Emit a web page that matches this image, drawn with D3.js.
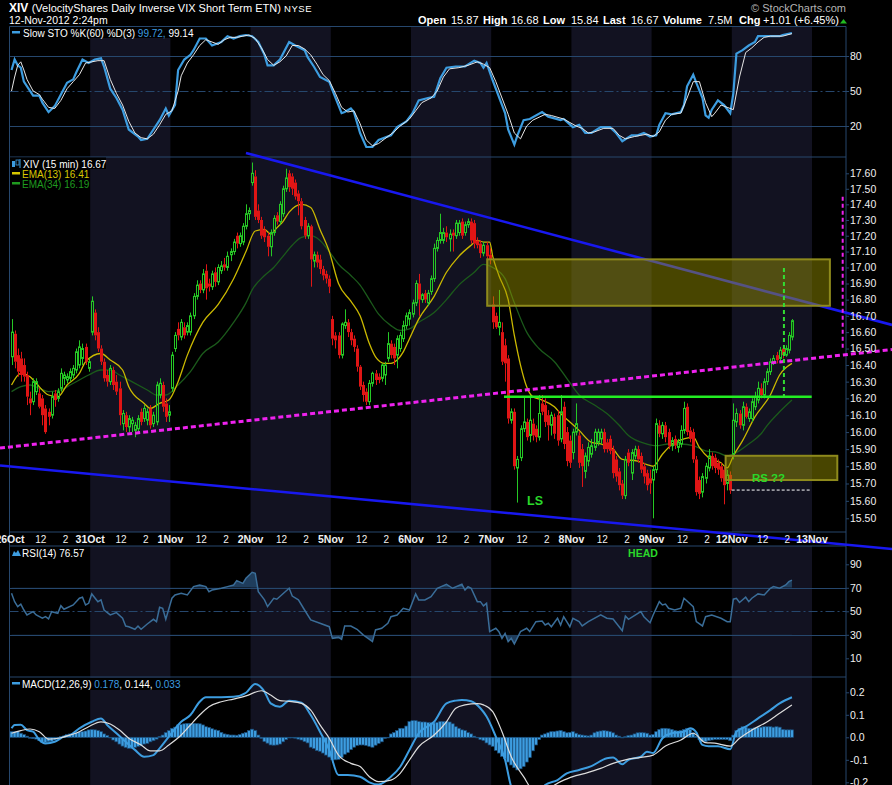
<!DOCTYPE html>
<html><head><meta charset="utf-8">
<script src="https://cdn.jsdelivr.net/npm/d3@7"></script>
<style>
html,body{margin:0;padding:0;background:#000;}
svg{display:block;font-family:"Liberation Sans",Arial,sans-serif;}
</style></head><body>
<svg id="c" width="892" height="785"></svg>
<script>
// ---------------- DATA ----------------
const dayLabels = ["26Oct","31Oct","1Nov","2Nov","5Nov","6Nov","7Nov","8Nov","9Nov","12Nov","13Nov"];
const hourLabels = [[10,"12"],[18,"2"]];
const priceTicks = [17.6,17.5,17.4,17.3,17.2,17.1,17.0,16.9,16.8,16.7,16.6,16.5,16.4,16.3,16.2,16.1,16.0,15.9,15.8,15.7,15.6,15.5];
const stoTicks = [80,50,20];
const rsiTicks = [90,70,50,30,10];
const macdTicks = [0.2,0.1,0,-0.1,-0.2];

// 15-min candles [open, high, low, close]
const oct26 = [[16.45,16.68,16.40,16.60],[16.59,16.61,16.38,16.42],[16.46,16.50,16.33,16.36],[16.44,16.48,16.30,16.34],[16.40,16.44,16.30,16.33],[16.34,16.36,16.16,16.21],[16.20,16.24,16.10,16.17],[16.18,16.32,16.16,16.30],[16.24,16.32,16.22,16.30],[16.23,16.26,16.14,16.15],[16.20,16.22,16.04,16.10],[16.14,16.16,15.99,16.00],[16.12,16.14,16.04,16.09],[16.10,16.24,16.08,16.21],[16.23,16.25,16.15,16.19],[16.20,16.26,16.18,16.24],[16.26,16.38,16.24,16.35],[16.32,16.36,16.28,16.34],[16.31,16.35,16.29,16.33],[16.32,16.38,16.30,16.36],[16.34,16.40,16.32,16.38],[16.37,16.50,16.35,16.48],[16.40,16.55,16.38,16.51],[16.44,16.53,16.40,16.50],[16.51,16.53,16.40,16.42],[16.38,16.44,16.36,16.42]];
const oct31 = [[16.60,16.82,16.58,16.79],[16.72,16.74,16.55,16.58],[16.60,16.63,16.48,16.50],[16.50,16.52,16.40,16.42],[16.42,16.44,16.30,16.32],[16.34,16.37,16.27,16.30],[16.30,16.40,16.28,16.38],[16.37,16.39,16.25,16.28],[16.30,16.34,16.22,16.24],[16.26,16.30,16.04,16.10],[16.05,16.13,16.01,16.11],[16.10,16.12,16.00,16.03],[16.03,16.10,16.00,16.08],[16.05,16.09,16.00,16.07],[16.01,16.06,15.97,16.04],[16.02,16.10,15.99,16.08],[16.12,16.14,16.04,16.06],[16.08,16.16,16.06,16.14],[16.07,16.14,16.04,16.12],[16.14,16.16,16.02,16.04],[16.05,16.12,16.03,16.10],[16.06,16.30,16.04,16.28],[16.22,16.32,16.20,16.29],[16.28,16.30,16.12,16.15],[16.17,16.20,16.06,16.09],[16.10,16.16,16.06,16.12]];
const nov1 = [[16.26,16.48,16.24,16.46],[16.50,16.60,16.48,16.58],[16.62,16.66,16.55,16.58],[16.57,16.68,16.55,16.66],[16.63,16.66,16.56,16.58],[16.60,16.66,16.58,16.64],[16.60,16.72,16.58,16.70],[16.70,16.84,16.68,16.82],[16.82,16.92,16.80,16.89],[16.90,16.92,16.84,16.86],[16.86,16.99,16.84,16.96],[16.98,17.02,16.80,16.87],[16.90,16.93,16.85,16.88],[16.88,16.98,16.86,16.96],[16.97,17.00,16.88,16.91],[16.91,17.02,16.89,17.00],[16.98,17.04,16.96,17.01],[17.02,17.06,16.98,17.00],[17.00,17.10,16.98,17.07],[17.08,17.12,17.04,17.10],[17.10,17.18,17.08,17.16],[17.20,17.22,17.12,17.15],[17.15,17.22,17.13,17.20],[17.16,17.28,17.14,17.26],[17.26,17.40,17.24,17.34],[17.34,17.38,17.30,17.36]];
const nov2 = [[17.54,17.67,17.52,17.60],[17.58,17.62,17.30,17.32],[17.36,17.40,17.28,17.30],[17.30,17.32,17.18,17.20],[17.24,17.26,17.16,17.19],[17.20,17.22,17.07,17.13],[17.13,17.24,17.07,17.22],[17.22,17.33,17.20,17.31],[17.33,17.35,17.27,17.29],[17.29,17.42,17.27,17.40],[17.34,17.52,17.32,17.50],[17.50,17.63,17.48,17.57],[17.60,17.62,17.48,17.51],[17.58,17.60,17.46,17.50],[17.54,17.56,17.43,17.45],[17.47,17.49,17.33,17.42],[17.42,17.44,17.24,17.26],[17.30,17.32,17.18,17.20],[17.20,17.28,17.18,17.26],[17.26,17.27,16.88,17.05],[17.04,17.10,17.00,17.08],[17.08,17.10,17.00,17.03],[17.05,17.08,16.96,16.99],[16.99,17.01,16.92,16.95],[16.96,16.98,16.90,16.93],[16.93,16.95,16.84,16.88]];
const nov5 = [[16.68,16.70,16.52,16.56],[16.58,16.60,16.50,16.55],[16.58,16.60,16.44,16.46],[16.46,16.66,16.44,16.65],[16.64,16.74,16.62,16.66],[16.66,16.68,16.57,16.60],[16.60,16.62,16.52,16.55],[16.56,16.58,16.48,16.51],[16.50,16.52,16.36,16.39],[16.39,16.40,16.25,16.27],[16.28,16.30,16.18,16.22],[16.24,16.26,16.16,16.18],[16.18,16.31,16.16,16.29],[16.29,16.36,16.27,16.35],[16.35,16.37,16.28,16.31],[16.33,16.35,16.29,16.31],[16.32,16.41,16.30,16.40],[16.34,16.42,16.28,16.40],[16.44,16.60,16.42,16.53],[16.53,16.55,16.44,16.46],[16.51,16.53,16.40,16.44],[16.46,16.58,16.38,16.56],[16.50,16.60,16.48,16.58],[16.56,16.67,16.54,16.64],[16.64,16.72,16.62,16.70],[16.68,16.74,16.64,16.72]];
const nov6 = [[16.71,16.80,16.69,16.78],[16.78,16.92,16.76,16.90],[16.90,16.96,16.70,16.80],[16.80,16.84,16.78,16.83],[16.84,16.86,16.78,16.80],[16.78,16.86,16.76,16.84],[16.85,16.95,16.83,16.93],[16.93,17.15,16.91,17.12],[17.12,17.19,17.10,17.17],[17.17,17.34,17.15,17.22],[17.17,17.25,17.15,17.22],[17.22,17.26,17.16,17.19],[17.18,17.24,17.10,17.21],[17.22,17.24,17.10,17.20],[17.20,17.30,17.18,17.28],[17.22,17.30,17.20,17.28],[17.29,17.31,17.18,17.20],[17.22,17.29,17.20,17.27],[17.27,17.31,17.25,17.29],[17.29,17.31,17.15,17.17],[17.28,17.30,17.12,17.15],[17.17,17.19,17.12,17.14],[17.15,17.17,17.06,17.09],[17.09,17.16,17.07,17.14],[17.14,17.16,17.04,17.07],[17.08,17.12,17.02,17.05]];
const nov7 = [[16.77,16.82,16.62,16.66],[16.70,16.72,16.62,16.63],[16.63,16.86,16.58,16.66],[16.60,16.66,16.40,16.42],[16.52,16.56,16.30,16.41],[16.44,16.46,16.05,16.08],[16.07,16.14,16.05,16.12],[16.12,16.14,15.78,15.80],[15.79,15.86,15.59,15.84],[15.85,16.04,15.83,16.02],[16.02,16.21,16.00,16.06],[16.06,16.08,15.95,15.97],[15.98,16.22,15.94,16.07],[16.05,16.08,15.95,15.98],[16.02,16.04,15.94,15.97],[15.97,16.22,15.95,16.11],[16.17,16.22,16.10,16.12],[16.16,16.20,16.03,16.06],[16.10,16.13,15.95,16.04],[16.04,16.12,15.98,16.10],[16.09,16.11,15.96,15.99],[16.10,16.13,15.92,15.95],[15.96,16.22,15.94,16.12],[16.15,16.18,15.90,15.93],[16.00,16.03,15.80,15.83],[15.95,15.98,15.79,15.82]];
const nov8 = [[15.88,16.02,15.84,16.00],[16.00,16.17,15.98,16.05],[15.98,16.00,15.79,15.82],[15.90,15.93,15.68,15.80],[15.77,15.88,15.73,15.86],[15.83,15.94,15.80,15.91],[15.87,15.96,15.85,15.92],[15.91,16.02,15.89,16.00],[15.94,16.02,15.92,16.00],[15.96,16.02,15.93,16.00],[16.00,16.02,15.88,15.90],[15.94,15.96,15.88,15.90],[15.96,15.98,15.87,15.89],[15.90,15.92,15.73,15.76],[15.84,15.86,15.71,15.74],[15.77,15.79,15.66,15.69],[15.70,15.72,15.61,15.63],[15.63,15.86,15.61,15.84],[15.88,15.90,15.80,15.82],[15.76,15.90,15.72,15.88],[15.86,15.92,15.84,15.90],[15.90,15.92,15.82,15.84],[15.86,15.88,15.76,15.78],[15.80,15.82,15.70,15.74],[15.76,15.78,15.66,15.69],[15.73,15.78,15.64,15.70]];
const nov9 = [[15.72,15.80,15.50,15.78],[15.78,16.08,15.76,16.05],[16.04,16.07,15.97,15.99],[15.99,16.06,15.96,16.04],[16.04,16.06,15.94,15.97],[16.00,16.02,15.90,15.92],[15.92,15.97,15.89,15.95],[15.96,15.98,15.90,15.92],[15.91,15.96,15.88,15.94],[15.93,16.04,15.91,16.01],[16.01,16.18,15.99,16.14],[16.15,16.17,15.98,16.00],[16.01,16.03,15.94,15.96],[16.00,16.02,15.82,15.84],[15.84,15.86,15.63,15.65],[15.72,15.74,15.61,15.64],[15.65,15.76,15.62,15.74],[15.73,15.82,15.70,15.80],[15.79,15.90,15.77,15.86],[15.86,15.88,15.78,15.80],[15.85,15.87,15.76,15.79],[15.82,15.84,15.75,15.78],[15.80,15.82,15.71,15.73],[15.78,15.80,15.58,15.69],[15.70,15.78,15.66,15.75],[15.75,15.77,15.64,15.66]];
const nov12 = [[15.87,16.17,15.84,16.07],[16.06,16.14,16.03,16.11],[16.11,16.13,16.02,16.04],[16.04,16.18,16.01,16.15],[16.15,16.17,16.08,16.09],[16.08,16.14,16.06,16.12],[16.08,16.20,16.06,16.18],[16.15,16.24,16.13,16.21],[16.19,16.30,16.17,16.26],[16.26,16.29,16.20,16.22],[16.22,16.32,16.20,16.30],[16.30,16.38,16.28,16.36],[16.36,16.44,16.34,16.42],[16.42,16.46,16.40,16.44],[16.46,16.48,16.41,16.43],[16.44,16.51,16.42,16.49],[16.50,16.52,16.44,16.46],[16.46,16.52,16.45,16.50],[16.49,16.60,16.47,16.58],[16.57,16.68,16.55,16.67]];

// overlays: [bar index, value]
const ema13 = [[0,16.28],[3,16.35],[6,16.33],[8,16.29],[12,16.22],[15,16.21],[18,16.28],[22,16.35],[24,16.42],[29,16.47],[32,16.43],[36,16.37],[38,16.27],[43,16.17],[45,16.14],[48,16.17],[51,16.19],[54,16.30],[57,16.46],[62,16.66],[67,16.77],[72,16.93],[76,17.10],[79,17.23],[82,17.24],[84,17.21],[86,17.25],[88,17.29],[90,17.35],[94,17.40],[97,17.38],[100,17.24],[103,17.10],[106,16.90],[110,16.79],[113,16.70],[116,16.53],[118,16.45],[121,16.41],[123,16.41],[125,16.43],[127,16.48],[129,16.56],[132,16.68],[137,16.82],[141,16.97],[145,17.07],[149,17.14],[151,17.17],[153,17.16],[155,17.16],[156,17.07],[158,16.95],[161,16.80],[163,16.58],[165,16.40],[167,16.27],[169,16.21],[172,16.19],[176,16.15],[178,16.11],[181,16.06],[184,16.01],[188,15.94],[191,15.93],[195,15.90],[198,15.84],[203,15.83],[206,15.81],[208,15.80],[211,15.87],[215,15.94],[218,15.96],[221,15.97],[223,15.91],[226,15.85],[230,15.82],[232,15.79],[234,15.86],[237,15.95],[241,16.09],[246,16.22],[249,16.34],[253,16.41]];
const ema34 = [[0,16.24],[3,16.27],[6,16.28],[9,16.26],[12,16.24],[16,16.25],[19,16.28],[22,16.31],[25,16.34],[29,16.37],[32,16.37],[35,16.34],[39,16.30],[44,16.25],[47,16.22],[50,16.22],[54,16.28],[58,16.36],[62,16.47],[67,16.54],[72,16.66],[76,16.78],[78,16.86],[82,16.95],[85,17.00],[88,17.07],[91,17.14],[94,17.19],[97,17.20],[100,17.17],[103,17.10],[106,17.02],[110,16.95],[113,16.89],[116,16.80],[119,16.71],[123,16.64],[126,16.61],[129,16.62],[132,16.66],[137,16.72],[141,16.80],[145,16.89],[150,16.97],[153,17.02],[156,17.00],[160,16.93],[163,16.78],[167,16.60],[171,16.50],[176,16.42],[180,16.32],[184,16.22],[189,16.16],[193,16.11],[197,16.04],[200,15.98],[206,15.93],[209,15.92],[213,15.93],[217,15.93],[221,15.92],[225,15.89],[229,15.88],[232,15.86],[235,15.88],[239,15.93],[243,15.99],[245,16.04],[249,16.12],[253,16.19]];
const stoK = [[0,68],[1,77],[2,72],[3,70],[4,58],[7,46],[9,46],[10,40],[12,32],[14,37],[16,47],[18,57],[20,60],[21,66],[23,77],[25,74],[27,77],[29,78],[30,71],[32,52],[34,44],[36,34],[38,17],[41,11],[42,8],[44,9],[46,17],[48,25],[50,35],[51,29],[53,38],[54,68],[56,77],[58,81],[59,85],[61,95],[63,95],[65,89],[68,92],[70,97],[72,95],[74,97],[76,98],[78,97],[80,92],[82,81],[83,72],[85,72],[87,77],[88,82],[90,92],[92,89],[95,85],[96,79],[98,71],[100,62],[103,58],[104,51],[107,31],[108,32],[110,35],[111,32],[113,14],[115,2],[117,2],[119,8],[123,12],[125,19],[128,24],[130,31],[132,42],[135,44],[137,45],[139,61],[141,70],[144,71],[147,71],[150,76],[152,74],[153,70],[154,74],[156,59],[158,45],[160,31],[161,17],[163,4],[164,12],[166,25],[168,26],[172,32],[174,28],[178,25],[179,26],[182,19],[184,21],[186,14],[188,14],[191,19],[194,19],[196,14],[198,7],[201,12],[203,12],[205,14],[207,11],[209,12],[210,21],[212,31],[214,30],[217,32],[218,38],[219,54],[221,64],[222,57],[224,44],[225,29],[226,27],[227,34],[229,42],[231,38],[233,31],[234,48],[235,82],[237,85],[239,89],[241,92],[242,97],[245,97],[249,97],[250,98],[253,99.72]];
const stoD = [[0,50],[1,62],[2,72],[3,75],[4,68],[5,60],[7,50],[9,47],[10,43],[12,36],[14,35],[16,42],[18,52],[20,58],[22,64],[24,74],[26,75],[28,76],[30,76],[32,60],[34,48],[36,38],[38,24],[40,14],[42,10],[44,9],[46,13],[48,21],[50,30],[52,33],[54,50],[55,63],[57,74],[59,81],[61,89],[63,94],[65,92],[67,90],[69,94],[71,96],[73,96],[75,97],[77,98],[79,95],[81,87],[83,77],[85,72],[87,75],[89,80],[91,89],[93,89],[95,86],[97,81],[99,73],[101,64],[103,59],[105,48],[107,36],[109,32],[111,33],[113,22],[115,8],[117,3],[119,5],[121,9],[124,15],[126,20],[129,26],[131,33],[133,40],[136,44],[138,50],[140,62],[142,69],[145,70],[148,72],[151,75],[153,73],[155,70],[157,58],[159,44],[161,30],[163,14],[165,9],[167,20],[169,25],[173,30],[175,29],[179,26],[181,23],[183,20],[185,18],[187,14],[189,15],[192,18],[195,18],[197,12],[199,9],[202,11],[204,12],[206,13],[208,11],[210,15],[212,25],[214,30],[217,31],[219,44],[221,58],[223,58],[225,40],[227,28],[228,31],[230,38],[232,36],[234,34],[236,62],[238,83],[240,87],[242,92],[244,96],[246,97],[250,97],[253,99.14]];
const rsi14 = [[0,65.4],[1,58.2],[2,54],[3,56],[4,51.1],[5,46.9],[7,49.7],[8,46.9],[10,44.1],[11,45.5],[12,43.5],[13,49.7],[15,48.3],[16,54.8],[17,51.7],[20,55.4],[22,61.1],[23,62],[24,55.4],[25,56.8],[26,64.8],[28,58.2],[29,59.7],[30,51.1],[32,46.9],[34,48.9],[36,44.1],[37,37.5],[38,36.9],[40,34.7],[41,37.5],[42,34.7],[44,39.2],[46,43.2],[47,41.2],[48,53.4],[49,52.6],[50,43.2],[52,61.1],[53,63.9],[55,65.4],[57,63.9],[59,71],[61,72.4],[63,71],[64,66.7],[65,68.1],[68,69.6],[70,71],[72,72.4],[73,76.1],[75,73.8],[76,78.1],[78,83.2],[79,82.3],[80,66.7],[82,59.7],[83,54],[85,61.1],[86,60.3],[90,69.6],[91,63],[93,59.7],[95,51.1],[97,42.6],[100,39.8],[103,36.9],[104,27],[106,27.8],[107,26.2],[108,37.5],[110,37.5],[112,34.7],[114,29.9],[117,24.2],[118,34.1],[120,35.5],[122,39.8],[123,45.4],[125,46.8],[127,52.6],[129,51.1],[131,64.8],[132,59.7],[134,59.7],[136,62.5],[138,69.6],[141,73],[143,69.6],[146,73],[147,68.1],[148,71],[149,69.6],[151,58.2],[152,58.2],[153,54.6],[154,56.8],[155,32.7],[157,35.6],[158,32.7],[159,27],[160,31.2],[161,24.2],[162,27],[163,22.2],[165,32.7],[167,35.6],[168,32.7],[170,41.2],[172,41.8],[173,38.4],[174,39.8],[175,36.9],[177,44.1],[178,38.4],[179,45.4],[181,36.9],[182,44.1],[184,41.2],[185,37.5],[187,41.2],[191,46.9],[193,44.1],[195,43.5],[198,33.5],[199,46],[200,43.2],[204,49.7],[205,45.4],[207,40.3],[208,46.9],[210,58.2],[211,55.4],[212,56.2],[213,52.6],[215,51.1],[217,52.6],[218,61.1],[221,54],[222,41.2],[224,37.5],[225,45.4],[227,46.9],[230,44.1],[232,41.2],[233,41.2],[234,60.3],[235,61.1],[236,57.5],[238,62],[239,58.2],[240,61.1],[242,64.8],[244,63.9],[246,69.6],[247,71],[249,69.6],[251,72.4],[252,75.2],[253,76.57]];
const macdLine = [[0,0.04],[1,0.055],[3,0.056],[5,0.032],[7,0.025],[9,-0.012],[11,-0.027],[14,-0.02],[17,0.003],[19,0.01],[22,0.04],[26,0.069],[29,0.084],[31,0.055],[34,0.018],[37,-0.02],[40,-0.056],[43,-0.086],[46,-0.079],[48,-0.049],[51,0.003],[55,0.069],[58,0.099],[61,0.158],[63,0.178],[68,0.178],[72,0.18],[76,0.198],[79,0.237],[82,0.203],[84,0.151],[87,0.136],[90,0.163],[94,0.154],[97,0.099],[100,0.025],[103,-0.056],[106,-0.168],[109,-0.168],[113,-0.175],[116,-0.2],[119,-0.21],[123,-0.175],[126,-0.131],[129,-0.056],[132,0.018],[137,0.069],[141,0.151],[144,0.163],[146,0.166],[149,0.16],[152,0.129],[154,0.092],[157,0.003],[160,-0.1],[162,-0.22],[165,-0.28],[168,-0.29],[171,-0.25],[173,-0.212],[177,-0.19],[180,-0.16],[184,-0.145],[188,-0.128],[193,-0.093],[195,-0.09],[198,-0.12],[200,-0.1],[204,-0.086],[206,-0.064],[208,-0.07],[211,-0.004],[214,0.018],[218,0.025],[220,0.04],[222,0.022],[224,-0.034],[226,-0.04],[229,-0.04],[233,-0.053],[235,0.025],[238,0.047],[242,0.084],[246,0.121],[249,0.151],[253,0.178]];
const macdSignal = [[0,0.018],[3,0.03],[6,0.037],[9,0.025],[12,-0.008],[16,-0.002],[19,0.01],[22,0.025],[25,0.047],[29,0.069],[32,0.059],[35,0.032],[38,-0.004],[42,-0.034],[45,-0.06],[48,-0.06],[51,-0.034],[55,0.01],[58,0.055],[61,0.099],[64,0.136],[68,0.158],[72,0.17],[76,0.184],[81,0.207],[84,0.188],[87,0.163],[90,0.16],[94,0.151],[97,0.121],[100,0.055],[103,-0.004],[106,-0.079],[110,-0.116],[113,-0.13],[116,-0.175],[119,-0.197],[123,-0.19],[126,-0.16],[129,-0.101],[132,-0.042],[137,0.01],[141,0.069],[144,0.129],[147,0.144],[151,0.15],[153,0.144],[156,0.114],[159,0.025],[162,-0.086],[166,-0.175],[169,-0.23],[173,-0.23],[178,-0.197],[182,-0.175],[186,-0.16],[191,-0.138],[195,-0.116],[199,-0.1],[204,-0.089],[208,-0.079],[212,-0.039],[217,-0.012],[221,0.018],[225,-0.024],[228,-0.026],[233,-0.039],[236,-0.004],[240,0.032],[245,0.069],[249,0.107],[253,0.144]];
const macdHist = [0.025,0.025,0.025,0.018,0.012,0.005,-0.004,-0.006,-0.008,-0.015,-0.024,-0.024,-0.02,-0.018,-0.012,-0.009,0.003,0.006,0.012,0.015,0.016,0.02,0.024,0.025,0.028,0.033,0.034,0.033,0.03,0.025,0.015,0.008,0.0,-0.012,-0.02,-0.03,-0.039,-0.045,-0.049,-0.049,-0.045,-0.04,-0.038,-0.03,-0.027,-0.02,-0.015,-0.008,0.004,0.01,0.021,0.03,0.04,0.045,0.055,0.057,0.06,0.062,0.062,0.062,0.061,0.06,0.055,0.047,0.044,0.038,0.033,0.03,0.022,0.015,0.013,0.01,0.01,0.009,0.012,0.018,0.021,0.03,0.036,0.03,0.01,-0.005,-0.019,-0.026,-0.034,-0.035,-0.034,-0.03,-0.02,-0.01,-0.003,0.0,-0.004,-0.008,-0.012,-0.019,-0.025,-0.044,-0.05,-0.059,-0.062,-0.07,-0.079,-0.088,-0.1,-0.1,-0.098,-0.09,-0.075,-0.068,-0.055,-0.044,-0.036,-0.034,-0.034,-0.036,-0.04,-0.044,-0.035,-0.027,-0.02,-0.005,0.0,0.015,0.021,0.03,0.04,0.04,0.05,0.07,0.074,0.074,0.07,0.068,0.068,0.066,0.065,0.064,0.066,0.07,0.07,0.07,0.068,0.06,0.047,0.04,0.033,0.03,0.021,0.015,0.005,0.0,-0.01,-0.014,-0.025,-0.034,-0.04,-0.058,-0.07,-0.085,-0.095,-0.11,-0.123,-0.135,-0.145,-0.14,-0.13,-0.11,-0.09,-0.06,-0.034,-0.01,0.01,0.015,0.02,0.025,0.025,0.028,0.03,0.025,0.02,0.022,0.025,0.018,0.012,0.01,0.008,0.006,0.01,0.02,0.025,0.028,0.03,0.028,0.025,0.02,0.01,0.005,0.0,0.003,0.008,0.01,0.015,0.02,0.021,0.02,0.018,0.01,0.012,0.025,0.035,0.04,0.04,0.038,0.035,0.03,0.028,0.03,0.035,0.04,0.035,0.02,0.005,-0.01,-0.019,-0.02,-0.015,-0.012,-0.009,-0.009,-0.009,-0.009,-0.01,-0.015,0.01,0.03,0.04,0.047,0.045,0.04,0.04,0.042,0.044,0.045,0.047,0.047,0.047,0.045,0.047,0.045,0.035,0.033,0.033,0.033];

// annotations in data units: [slot, price]
const trendTop = [[76.5,17.732],[285.95,16.644]];
const trendBottom = [[-3.24,15.804],[285.95,15.326]];
const neckline = [[-3.24,15.906],[285.95,16.494]];
const gapBox = {s0:154.7, s1:265.8, p0:17.051, p1:16.762};
const rsBox = {s0:232.0, s1:268.2, p0:15.861, p1:15.720};
const breakoutLevel = {s0:160.15, s1:259.9, p:16.21};
const targetGreen = {s:250.9, p0:16.997, p1:16.20};
const targetMagenta = {s:269.95, p0:17.449, p1:16.491};
const rsLevel = {s0:233.96, s1:259.36, p:15.662};
const notes = [{t:"LS", s:170.2, p:15.60, size:12.5},{t:"RS ??", s:245.9, p:15.73, size:11.5}];

// ---------------- CHART ----------------
const svg = d3.select("#c");
const PL = 9.5, PR = 846;
const P = {sto:[26.5,157], main:[157,532], rsi:[546,677], macd:[677,785]};
const FRAME = "#26476d", NAVY = "#121221", GREEN = "#25c825", RED = "#e01515";
const x = d3.scaleLinear().domain([0,272]).range([10, 10+272*3.0846]);
const cx = g => x(g+0.5);
const y = d3.scaleLog().domain([15.5,17.6]).range([518.3,173.3]);
const yS = d3.scaleLinear().domain([20,80]).range([126,56]);
const yR = d3.scaleLinear().domain([10,90]).range([658.3,564.3]);
const yM = d3.scaleLinear().domain([-0.2,0.2]).range([782.3,692.3]);

svg.append("rect").attr("width",892).attr("height",785).attr("fill","#000");
const defs = svg.append("defs");
function clip(id,y0,y1,x0=PL,x1=PR){defs.append("clipPath").attr("id",id).append("rect").attr("x",x0).attr("y",y0).attr("width",x1-x0).attr("height",y1-y0);}
clip("cSto",P.sto[0],P.sto[1]); clip("cMain",P.main[0],P.main[1]); clip("cRsi",P.rsi[0],P.rsi[1]); clip("cMacd",P.macd[0],P.macd[1]);
clip("cRsiHi",P.rsi[0],yR(70)); clip("cRsiLo",yR(30),P.rsi[1]);

// day bands
const bandG = svg.append("g");
dayLabels.forEach((d,i)=>{
  if(i%2!==1) return;
  const x0=Math.max(PL,x(i*26)), x1=Math.min(PR,x((i+1)*26));
  Object.values(P).forEach(p=>{
    bandG.append("rect").attr("x",x0).attr("y",p[0]).attr("width",x1-x0).attr("height",p[1]-p[0]).attr("fill",NAVY);
  });
});

// grid lines
const gridG = svg.append("g").attr("stroke",FRAME).attr("stroke-width",1);
[[yS,80,false],[yS,50,true],[yS,20,false],[yR,70,false],[yR,50,true],[yR,30,false]].forEach(([sc,v,dash])=>{
  const yy=Math.round(sc(v))+0.5;
  gridG.append("line").attr("x1",PL).attr("x2",PR).attr("y1",yy).attr("y2",yy).attr("stroke-dasharray",dash?"9,3,2,3":null);
});

// frame
const fr = svg.append("g").attr("stroke",FRAME).attr("stroke-width",1);
[26.5,157,532,546,677].forEach(v=>fr.append("line").attr("x1",PL).attr("x2",PR).attr("y1",v).attr("y2",v));
fr.append("line").attr("x1",PL).attr("x2",PL).attr("y1",26.5).attr("y2",785);
fr.append("line").attr("x1",PR).attr("x2",PR).attr("y1",26.5).attr("y2",785);

// STO
const stoG = svg.append("g").attr("clip-path","url(#cSto)");
const lS = d3.line().x(d=>cx(d[0])).y(d=>yS(d[1]));
stoG.append("path").attr("d",lS(stoK)).attr("fill","none").attr("stroke","#3d9de0").attr("stroke-width",2.2);
stoG.append("path").attr("d",lS(stoD)).attr("fill","none").attr("stroke","#e6e6e6").attr("stroke-width",1);

// main: EMAs then candles
const mainG = svg.append("g").attr("clip-path","url(#cMain)");
const lP = d3.line().x(d=>cx(d[0])).y(d=>y(d[1])).curve(d3.curveMonotoneX);
mainG.append("path").attr("d",lP(ema34)).attr("fill","none").attr("stroke","#1b5a1b").attr("stroke-width",1.3);
mainG.append("path").attr("d",lP(ema13)).attr("fill","none").attr("stroke","#cbb900").attr("stroke-width",1.3);

const bars = [];
[oct26,oct31,nov1,nov2,nov5,nov6,nov7,nov8,nov9,nov12].forEach((arr,d)=>arr.forEach((b,i)=>bars.push({g:d*26+i,o:b[0],h:b[1],l:b[2],c:b[3]})));
const candleG = mainG.append("g");
bars.forEach(b=>{
  const up=b.c>=b.o, col=up?GREEN:RED, X=Math.round(cx(b.g))+0.5;
  const top=y(Math.max(b.o,b.c)), bot=y(Math.min(b.o,b.c));
  candleG.append("line").attr("x1",X).attr("x2",X).attr("y1",y(b.h)).attr("y2",top).attr("stroke",col).attr("stroke-width",1);
  candleG.append("line").attr("x1",X).attr("x2",X).attr("y1",bot).attr("y2",y(b.l)).attr("stroke",col).attr("stroke-width",1);
  if(up){
    candleG.append("rect").attr("x",X-1).attr("y",top).attr("width",2).attr("height",Math.max(bot-top,1))
      .attr("fill",b.g===bars.length-1?"#0a4a0a":"none").attr("stroke",col).attr("stroke-width",1);
  } else {
    candleG.append("rect").attr("x",X-1.5).attr("y",top).attr("width",3).attr("height",Math.max(bot-top,1)).attr("fill",col);
  }
});

// RSI
const rsiG = svg.append("g").attr("clip-path","url(#cRsi)");
const lR = d3.line().x(d=>cx(d[0])).y(d=>yR(d[1]));
rsiG.append("path").attr("clip-path","url(#cRsiHi)").attr("d",d3.area().x(d=>cx(d[0])).y0(yR(70)).y1(d=>yR(d[1]))(rsi14)).attr("fill","#1f3d5c");
rsiG.append("path").attr("clip-path","url(#cRsiLo)").attr("d",d3.area().x(d=>cx(d[0])).y0(yR(30)).y1(d=>yR(d[1]))(rsi14)).attr("fill","#1f3d5c");
rsiG.append("path").attr("d",lR(rsi14)).attr("fill","none").attr("stroke","#3a6d98").attr("stroke-width",1.5);

// MACD
const macdG = svg.append("g").attr("clip-path","url(#cMacd)");
macdG.selectAll("rect.h").data(macdHist).join("rect").attr("class","h")
  .attr("x",(v,i)=>x(i)).attr("width",x(1)-x(0))
  .attr("y",v=>Math.min(yM(0),yM(v))).attr("height",v=>Math.max(0.6,Math.abs(yM(v)-yM(0))))
  .attr("fill","#3d9de0").attr("stroke","#1a4c78").attr("stroke-width",0.7);
const lM = d3.line().x(d=>cx(d[0])).y(d=>yM(d[1])).curve(d3.curveMonotoneX);
macdG.append("path").attr("d",lM(macdLine)).attr("fill","none").attr("stroke","#3d9de0").attr("stroke-width",2);
macdG.append("path").attr("d",lM(macdSignal)).attr("fill","none").attr("stroke","#dcdcdc").attr("stroke-width",1.2);

// annotations
const an = svg.append("g");
const lA = d3.line().x(d=>x(d[0])).y(d=>y(d[1]));
an.append("path").attr("d",lA(trendTop)).attr("stroke","#1818f0").attr("stroke-width",2.6).attr("fill","none");
an.append("path").attr("d",lA(trendBottom)).attr("stroke","#1818f0").attr("stroke-width",2.6).attr("fill","none");
an.append("path").attr("d",lA(neckline)).attr("stroke","#ee22ee").attr("stroke-width",3).attr("stroke-dasharray","5,3").attr("fill","none");
[gapBox,rsBox].forEach(b=>{
  an.append("rect").attr("x",x(b.s0)).attr("y",y(b.p0)).attr("width",x(b.s1)-x(b.s0)).attr("height",y(b.p1)-y(b.p0))
    .attr("fill","rgba(160,152,0,0.45)").attr("stroke","#8e8a1c").attr("stroke-width",2);
});
an.append("line").attr("x1",x(breakoutLevel.s0)).attr("x2",x(breakoutLevel.s1)).attr("y1",y(breakoutLevel.p)).attr("y2",y(breakoutLevel.p)).attr("stroke","#22ee22").attr("stroke-width",2.6);
an.append("line").attr("x1",x(targetGreen.s)).attr("x2",x(targetGreen.s)).attr("y1",y(targetGreen.p0)).attr("y2",y(targetGreen.p1)).attr("stroke","#33dd33").attr("stroke-width",2).attr("stroke-dasharray","4,3");
an.append("line").attr("x1",x(targetMagenta.s)).attr("x2",x(targetMagenta.s)).attr("y1",y(targetMagenta.p0)).attr("y2",y(targetMagenta.p1)).attr("stroke","#ee22ee").attr("stroke-width",2).attr("stroke-dasharray","4,3");
an.append("line").attr("x1",x(rsLevel.s0)).attr("x2",x(rsLevel.s1)).attr("y1",y(rsLevel.p)).attr("y2",y(rsLevel.p)).attr("stroke","#ffffff").attr("stroke-width",1).attr("stroke-dasharray","3,2");
notes.forEach(n=>an.append("text").attr("x",x(n.s)).attr("y",y(n.p)).attr("dy","0.35em").attr("text-anchor","middle")
  .attr("font-weight","bold").attr("font-size",n.size).attr("fill","#2ad82a").text(n.t));

// right axes
function rAxis(scale,ticks,fmt){
  const g = svg.append("g").attr("transform",`translate(${PR},0)`)
    .call(d3.axisRight(scale).tickValues(ticks).tickSize(3).tickPadding(1).tickFormat(fmt));
  g.select(".domain").remove();
  g.selectAll(".tick line").attr("stroke",FRAME);
  g.selectAll(".tick text").attr("fill","#f0f0f0").attr("font-size",10.5).attr("font-family","Liberation Sans, Arial, sans-serif");
}
rAxis(yS,stoTicks,d=>String(d));
rAxis(y,priceTicks,d=>d.toFixed(2));
rAxis(yR,rsiTicks,d=>String(d));
rAxis(yM,macdTicks,d=>d.toFixed(1));

// x axis labels
const xl = svg.append("g").attr("fill","#f0f0f0").attr("text-anchor","middle");
dayLabels.forEach((d,i)=>{
  xl.append("text").attr("x",x(i*26)).attr("y",543).attr("font-weight","bold").attr("font-size",10.5).text(d);
  if(i<dayLabels.length-1) hourLabels.forEach(h=>xl.append("text").attr("x",x(i*26+h[0])).attr("y",543).attr("font-size",10).text(h[1]));
});
// HEAD note below axis
svg.append("text").attr("x",x(205.2)).attr("y",557).attr("text-anchor","middle").attr("font-weight","bold").attr("font-size",10.5).attr("fill","#2ad82a").text("HEAD");
// bottom trendline is drawn across the axis row too
svg.append("path").attr("d",lA(trendBottom)).attr("stroke","#1818f0").attr("stroke-width",2.6).attr("fill","none").attr("clip-path",null)
  .style("clip-path","inset(532px 0 0 0)");

// legends
function legendBox(x0,y0,w,h){svg.append("rect").attr("x",x0).attr("y",y0).attr("width",w).attr("height",h).attr("fill","#000");}
legendBox(10,27,184,11);
svg.append("rect").attr("x",12).attr("y",31).attr("width",8).attr("height",2.5).attr("fill","#3d9de0");
svg.append("text").attr("x",23).attr("y",36.5).attr("font-size",10).attr("fill","#fff")
  .call(t=>{t.append("tspan").text("Slow STO %K(60) %D(3) ");t.append("tspan").attr("fill","#3d9de0").text("99.72, ");t.append("tspan").text("99.14");});

legendBox(10,157.5,96,11.5);
svg.append("rect").attr("x",12).attr("y",161).attr("width",3).attr("height",6).attr("fill","#3d9de0");
svg.append("rect").attr("x",16).attr("y",160).attr("width",3).attr("height",5).attr("fill","none").attr("stroke","#3d9de0").attr("stroke-width",0.8);
svg.append("line").attr("x1",20).attr("x2",20).attr("y1",159).attr("y2",168).attr("stroke","#3d9de0");
svg.append("text").attr("x",23).attr("y",167.5).attr("font-size",10).attr("fill","#fff").text("XIV (15 min) 16.67");
svg.append("rect").attr("x",12).attr("y",172).attr("width",8).attr("height",2.5).attr("fill","#d8c800");
svg.append("text").attr("x",22).attr("y",177.5).attr("font-size",10).attr("fill","#d8c800").text("EMA(13) 16.41");
svg.append("rect").attr("x",12).attr("y",182).attr("width",8).attr("height",2.5).attr("fill","#1f9a1f");
svg.append("text").attr("x",22).attr("y",187.5).attr("font-size",10).attr("fill","#1f9a1f").text("EMA(34) 16.19");

legendBox(10,547,74,11);
svg.append("path").attr("d","M12,556 L14,551 L16,553 L18,550 L21,556 Z").attr("fill","#3d9de0");
svg.append("text").attr("x",22).attr("y",556.5).attr("font-size",10).attr("fill","#fff").text("RSI(14) 76.57");

legendBox(10,678,165,12);
svg.append("rect").attr("x",12).attr("y",682).attr("width",8).attr("height",2.5).attr("fill","#3d9de0");
svg.append("text").attr("x",22).attr("y",687.5).attr("font-size",10).attr("fill","#fff")
  .call(t=>{t.append("tspan").text("MACD(12,26,9) ");t.append("tspan").attr("fill","#3d9de0").text("0.178");t.append("tspan").text(", 0.144, ");t.append("tspan").attr("fill","#3d9de0").text("0.033");});

// header
svg.append("text").attr("x",9).attr("y",12).attr("font-size",11).attr("fill","#fff")
  .call(t=>{t.append("tspan").attr("font-weight","bold").attr("font-size",12).text("XIV ");
            t.append("tspan").text("(VelocityShares Daily Inverse VIX Short Term ETN) ");
            t.append("tspan").attr("font-size",9.5).attr("letter-spacing",0.6).text("NYSE");});
svg.append("text").attr("x",9).attr("y",24).attr("font-size",10.5).attr("fill","#fff").text("12-Nov-2012 2:24pm");
svg.append("text").attr("x",846).attr("y",12).attr("text-anchor","end").attr("font-size",11).attr("fill","#b4b4b4").text("© StockCharts.com");
const hdr = [["Open",418,true],["15.87",451,false],["High",483,true],["16.68",511,false],["Low",543,true],["15.84",571,false],["Last",603,true],["16.67",631,false],["Volume",663,true],["7.5M",708,false],["Chg",739,true],["+1.01 (+6.45%)",763,false]];
hdr.forEach(h=>svg.append("text").attr("x",h[1]).attr("y",24).attr("font-size",11).attr("font-weight",h[2]?"bold":"normal").attr("fill","#fff").text(h[0]));
svg.append("path").attr("d","M840,23.5 L847,23.5 L843.5,19 Z").attr("fill","#22bb22");
</script>
</body></html>
